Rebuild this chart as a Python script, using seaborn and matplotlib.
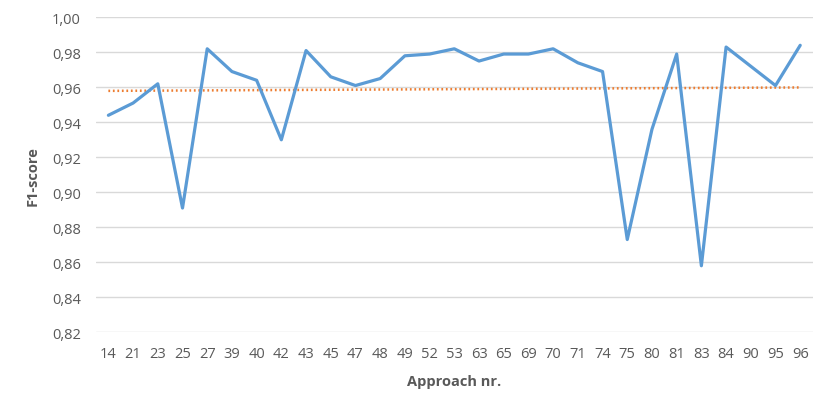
import numpy as np
import pandas as pd
import matplotlib
matplotlib.use("Agg")
import matplotlib.pyplot as plt
import seaborn as sns
from matplotlib.ticker import FuncFormatter, MultipleLocator

approaches = ["14", "21", "23", "25", "27", "39", "40", "42", "43", "45", "47", "48", "49", "52",
              "53", "63", "65", "69", "70", "71", "74", "75", "80", "81", "83", "84", "90", "95", "96"]
f1_scores = [0.944, 0.951, 0.962, 0.891, 0.982, 0.969, 0.964, 0.930, 0.981, 0.966, 0.961, 0.965,
             0.978, 0.979, 0.982, 0.975, 0.979, 0.979, 0.982, 0.974, 0.969, 0.873, 0.936, 0.979,
             0.858, 0.983, 0.972, 0.961, 0.984]

df = pd.DataFrame({"pos": np.arange(len(approaches)), "approach": approaches, "f1": f1_scores})

sns.set_theme(style="white")
plt.rcParams["font.family"] = ["Open Sans", "DejaVu Sans"]

fig = plt.figure(figsize=(8.3, 4.14), dpi=100)
ax = fig.add_axes([0.1157, 0.195, 0.979 - 0.1157, 0.9558 - 0.195])

grey = "#595959"
sns.lineplot(data=df, x="pos", y="f1", ax=ax, color="#5B9BD5", linewidth=2.3, zorder=3)
sns.regplot(data=df, x="pos", y="f1", ax=ax, scatter=False, ci=None, truncate=True,
            line_kws=dict(color="#ED7D31", linestyle=(0, (0.7, 1.1)), linewidth=1.8,
                          dash_capstyle="butt", zorder=2))

ax.set_ylim(0.82, 1.00)
ax.set_xlim(-0.5, len(approaches) - 0.5)
ax.yaxis.set_major_locator(MultipleLocator(0.02))
ax.yaxis.set_major_formatter(FuncFormatter(lambda v, p: f"{v:.2f}".replace(".", ",")))
ax.set_xticks(df["pos"])
ax.set_xticklabels(approaches)

ax.grid(axis="y", color="#D9D9D9", linewidth=1.0)
ax.grid(axis="x", visible=False)
ax.set_axisbelow(True)
for s in ax.spines.values():
    s.set_visible(False)
ax.tick_params(axis="both", length=0, labelsize=10.5, colors=grey)
ax.tick_params(axis="y", pad=11)
ax.tick_params(axis="x", pad=10)

ax.set_xlabel("Approach nr.", fontsize=10.5, fontweight="bold", color=grey, labelpad=9)
ax.set_ylabel("F1-score", fontsize=10.5, fontweight="bold", color=grey, labelpad=9)

fig.savefig("out.png", dpi=100)
